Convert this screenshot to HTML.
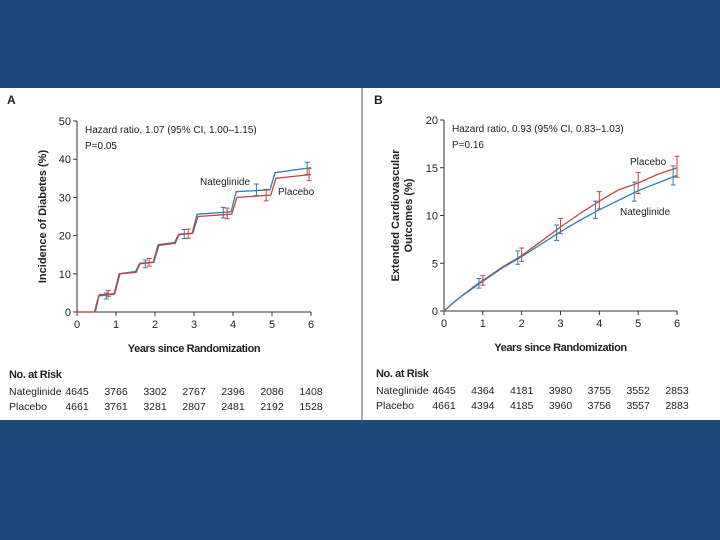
<!DOCTYPE html>
<html><head><meta charset="utf-8">
<style>
body{margin:0;width:720px;height:540px;background:#1f4a7c;overflow:hidden;font-family:"Liberation Sans",sans-serif;}
svg{position:absolute;left:0;top:0}
text{font-family:"Liberation Sans",sans-serif;fill:#222}
</style></head>
<body>
<svg id="c" width="720" height="540">
<rect x="0" y="88" width="720" height="332" fill="#fff"/>
<line x1="362" y1="88" x2="362" y2="420" stroke="#555" stroke-width="1"/>
</svg>
<script>
// ---------- Data ----------
const xTicks=[0,1,2,3,4,5,6];
const yTicksA=[0,10,20,30,40,50];
const yTicksB=[0,5,10,15,20];
// Panel A step curves: [year, %]
const aNateX=[0,0.45,0.55,0.95,1.08,1.5,1.6,1.95,2.08,2.5,2.6,2.95,3.08,3.95,4.08,4.95,5.08,6];
const aNateY=[0,0,4.2,4.6,10.0,10.6,12.6,13.0,17.6,18.2,20.2,20.6,25.6,26.2,31.5,32.0,36.5,37.8];
const aPlacX=[0,0.47,0.57,0.97,1.1,1.52,1.62,1.97,2.1,2.52,2.62,2.97,3.1,3.97,4.1,4.97,5.1,6];
const aPlacY=[0,0,4.5,4.8,10.0,10.4,12.8,13.0,17.4,18.0,20.4,20.6,25.0,25.6,30.0,30.6,35.0,36.0];
const aNateErrX=[0.75,1.75,2.75,3.75,4.6,5.9], aNateErrY=[4.2,12.6,20.4,26.0,32.0,37.6], aNateErrH=[0.8,1.0,1.2,1.4,1.5,1.6];
const aPlacErrX=[0.8,1.85,2.85,3.85,4.85,5.95], aPlacErrY=[4.8,13.0,20.5,25.8,30.6,36.0], aPlacErrH=[0.8,1.0,1.2,1.4,1.5,1.6];
// Panel B curves
const bX=[0,0.25,0.5,0.75,1,1.5,2,2.5,3,3.5,4,4.5,5,5.5,6];
const bNate=[0,0.9,1.7,2.4,3.1,4.5,5.7,7.0,8.3,9.5,10.6,11.6,12.6,13.4,14.2];
const bPlac=[0,0.9,1.7,2.5,3.2,4.6,5.8,7.3,8.8,10.2,11.5,12.7,13.4,14.3,15.0];
const bNateErrX=[0.9,1.9,2.9,3.9,4.9,5.9], bNateErrY=[2.9,5.6,8.2,10.6,12.5,14.2], bNateErrH=[0.5,0.7,0.8,0.9,1.0,1.0];
const bPlacErrX=[1.0,2.0,3.0,4.0,5.0,6.0], bPlacErrY=[3.2,5.9,8.9,11.6,13.4,15.1], bPlacErrH=[0.5,0.7,0.8,0.9,1.1,1.1];
const riskA_N=[4645,3766,3302,2767,2396,2086,1408], riskA_P=[4661,3761,3281,2807,2481,2192,1528];
const riskB_N=[4645,4364,4181,3980,3755,3552,2853], riskB_P=[4661,4394,4185,3960,3756,3557,2883];

const svg=document.getElementById('c'), NS='http://www.w3.org/2000/svg';
const BLUE='#2f7db4', RED='#c4473c';
function mk(t,a,txt){const e=document.createElementNS(NS,t);for(const k in a)e.setAttribute(k,a[k]);if(txt!==undefined)e.textContent=txt;svg.appendChild(e);return e;}

function panel(P){
  const sx=v=>P.x0+(P.x1-P.x0)*v/6, sy=v=>P.y0-(P.y0-P.y1)*v/P.ymax;
  let e=mk('line',{x1:P.x0,y1:P.y0,x2:P.x1,y2:P.y0,stroke:'#333','stroke-width':1});
  
  e=mk('line',{x1:P.x0,y1:P.y0,x2:P.x0,y2:P.y1,stroke:'#333','stroke-width':1});
  
  xTicks.forEach(t=>{mk('line',{x1:sx(t),y1:P.y0,x2:sx(t),y2:P.y0+4,stroke:'#333'});
    e=mk('text',{x:sx(t),y:P.y0+16,'font-size':11,'text-anchor':'middle'},t);
    });
  P.yt.forEach(t=>{mk('line',{x1:P.x0-4,y1:sy(t),x2:P.x0,y2:sy(t),stroke:'#333'});
    e=mk('text',{x:P.x0-6,y:sy(t)+4,'font-size':11,'text-anchor':'end'},t);
    });
  e=mk('text',{x:(P.x0+P.x1)/2,y:P.y0+40,'font-size':11,'font-weight':'bold','text-anchor':'middle','letter-spacing':'-0.4'},'Years since Randomization');
  
  P.ylab.forEach((l,i)=>{e=mk('text',{x:0,y:0,'font-size':11,'font-weight':'bold','text-anchor':'middle',transform:`translate(${P.ylx+i*13},${(P.y0+P.y1)/2}) rotate(-90)`},l);
    });
  e=mk('text',{x:P.x0-70,y:104,'font-size':12,'font-weight':'bold'},P.letter);
  
  e=mk('text',{x:P.x0+8,y:P.y1+12,'font-size':10},P.hr);
  
  e=mk('text',{x:P.x0+8,y:P.y1+28,'font-size':10},P.p);
  
  P.series.forEach(s=>{
    let d='';s.x.forEach((x,i)=>{d+=(i?'L':'M')+sx(x).toFixed(1)+','+sy(s.y[i]).toFixed(1);});
    e=mk('path',{d,fill:'none',stroke:s.c,'stroke-width':1.3,'stroke-linejoin':'round'});
    
    s.ex.forEach((x,i)=>{const X=sx(x),a=sy(s.ey[i]-s.eh[i]),b=sy(s.ey[i]+s.eh[i]);
      e=mk('path',{d:`M${X},${a}L${X},${b}M${X-2.5},${a}L${X+2.5},${a}M${X-2.5},${b}L${X+2.5},${b}`,stroke:s.c,'stroke-width':1,fill:'none'});
      });
    e=mk('text',{x:s.lx,y:s.ly,'font-size':10},s.label);
    
  });
  const ry=P.y0+54;
  e=mk('text',{x:P.x0-68,y:ry+12,'font-size':11,'font-weight':'bold','letter-spacing':'-0.4'},'No. at Risk');
  
  [['Nateglinide',P.rn],['Placebo',P.rp]].forEach((r,j)=>{
    e=mk('text',{x:P.x0-68,y:ry+29+j*15,'font-size':10.5},r[0]);
    
    r[1].forEach((v,i)=>{e=mk('text',{x:sx(i),y:ry+29+j*15,'font-size':10.5,'text-anchor':'middle'},v);
      });
  });
}
panel({id:'panel-a',letter:'A',x0:77,x1:311,y0:312,y1:121,ymax:50,yt:yTicksA,ylx:46,
  ylab:['Incidence of Diabetes (%)'],hr:'Hazard ratio, 1.07 (95% CI, 1.00–1.15)',p:'P=0.05',rn:riskA_N,rp:riskA_P,
  series:[{n:'nateglinide',c:BLUE,x:aNateX,y:aNateY,ex:aNateErrX,ey:aNateErrY,eh:aNateErrH,label:'Nateglinide',lx:200,ly:185},
          {n:'placebo',c:RED,x:aPlacX,y:aPlacY,ex:aPlacErrX,ey:aPlacErrY,eh:aPlacErrH,label:'Placebo',lx:278,ly:195}]});
panel({id:'panel-b',letter:'B',x0:444,x1:677,y0:311,y1:120,ymax:20,yt:yTicksB,ylx:399,
  ylab:['Extended Cardiovascular','Outcomes (%)'],hr:'Hazard ratio, 0.93 (95% CI, 0.83–1.03)',p:'P=0.16',rn:riskB_N,rp:riskB_P,
  series:[{n:'placebo',c:RED,x:bX,y:bPlac,ex:bPlacErrX,ey:bPlacErrY,eh:bPlacErrH,label:'Placebo',lx:630,ly:165},
          {n:'nateglinide',c:BLUE,x:bX,y:bNate,ex:bNateErrX,ey:bNateErrY,eh:bNateErrH,label:'Nateglinide',lx:620,ly:215}]});
</script>
</body></html>
